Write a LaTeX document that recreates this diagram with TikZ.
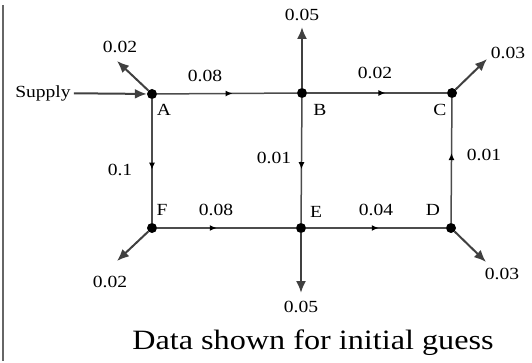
\documentclass[tikz,border=0pt]{standalone}
\usepackage{fontspec}
\setmainfont[FakeStretch=1.15]{Liberation Serif}
\usetikzlibrary{arrows.meta,decorations.markings}

\begin{document}
\begin{tikzpicture}[x=1pt,y=-1pt,
  junction/.style={circle,fill=black,inner sep=0pt,minimum size=10pt},
  pipe/.style={draw=black!70,line width=1.5pt,postaction={decorate},
    decoration={markings,mark=at position #1 with {\arrow[black]{Latex[length=7pt,width=6pt]}}}},
  pipe/.default=0.55,
  outflow/.style={draw=black!75,line width=2pt,-{Latex[length=12pt,width=10pt]}},
  lbl/.style={font=\fontsize{17}{19}\selectfont,inner sep=1pt},
  caption/.style={font=\fontsize{28}{32}\selectfont}]
\useasboundingbox (0,0) rectangle (532,363);
\draw[black!60,line width=1.2pt] (3,5) -- (3,361);

% junctions
\node[junction] (A) at (152,94) {};
\node[junction] (B) at (302,93) {};
\node[junction] (C) at (452,93) {};
\node[junction] (D) at (451,228) {};
\node[junction] (E) at (301,228) {};
\node[junction] (F) at (152,228) {};

\node[lbl] (tagA) at (164,110) {A};
\node[lbl] (tagB) at (320,110) {B};
\node[lbl] (tagC) at (440,110) {C};
\node[lbl] (tagD) at (433,210) {D};
\node[lbl] (tagE) at (316,212) {E};
\node[lbl] (tagF) at (162,210) {F};

% supply and outflows
\node[lbl,inner sep=3pt] (supply) at (43,93) {Supply};
\coordinate (outA) at (117,61);
\coordinate (outB) at (302,27);
\coordinate (outC) at (487,59);
\coordinate (outD) at (486,262);
\coordinate (outE) at (301,293);
\coordinate (outF) at (117,261);

\draw[outflow] (supply) -- (A);
\draw[outflow] (A) -- (outA);
\draw[outflow] (B) -- (outB);
\draw[outflow] (C) -- (outC);
\draw[outflow] (D) -- (outD);
\draw[outflow] (E) -- (outE);
\draw[outflow] (F) -- (outF);

% pipes
\draw[pipe=0.54] (A) -- (B);
\draw[pipe=0.56] (B) -- (C);
\draw[pipe=0.57] (A) -- (F);
\draw[pipe=0.57] (B) -- (E);
\draw[pipe=0.56] (D) -- (C);
\draw[pipe=0.43] (F) -- (E);
\draw[pipe=0.52] (E) -- (D);

% flows
\node[lbl] (qA) at (120,47) {0.02};
\node[lbl] (qAB) at (205,76) {0.08};
\node[lbl] (qAF) at (120,170) {0.1};
\node[lbl] (qB) at (302,15) {0.05};
\node[lbl] (qBC) at (375,73) {0.02};
\node[lbl] (qC) at (508,53) {0.03};
\node[lbl] (qDC) at (484,155) {0.01};
\node[lbl] (qBE) at (274,158) {0.01};
\node[lbl] (qFE) at (216,210) {0.08};
\node[lbl] (qED) at (376,210) {0.04};
\node[lbl] (qD) at (502,274) {0.03};
\node[lbl] (qE) at (301,307) {0.05};
\node[lbl] (qF) at (110,282) {0.02};

\node[caption] (title) at (313,343) {Data shown for initial guess};
\end{tikzpicture}
\end{document}
